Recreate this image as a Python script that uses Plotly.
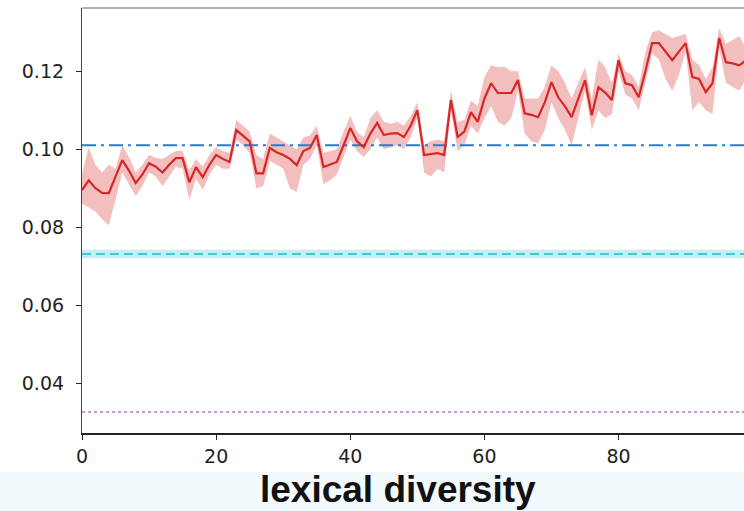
import plotly.graph_objects as go

x_vals = list(range(100))
mean_vals = [
    0.0895, 0.0920, 0.0900, 0.0888, 0.0887, 0.0930, 0.0972, 0.0945, 0.0913, 0.0935,
    0.0964, 0.0955, 0.0940, 0.0960, 0.0977, 0.0977, 0.0915, 0.0954, 0.0928, 0.0960,
    0.0985, 0.0975, 0.0967, 0.1049, 0.1035, 0.1020, 0.0938, 0.0938, 0.1003, 0.0992,
    0.0985, 0.0975, 0.0959, 0.0995, 0.1003, 0.1036, 0.0954, 0.0960, 0.0967, 0.1010,
    0.1054, 0.1020, 0.1005, 0.1040, 0.1067, 0.1036, 0.1040, 0.1041, 0.1031, 0.1060,
    0.1100, 0.0985, 0.0988, 0.0990, 0.0985, 0.1126, 0.1031, 0.1045, 0.1095, 0.1070,
    0.1130, 0.1169, 0.1144, 0.1144, 0.1144, 0.1177, 0.1092, 0.1088, 0.1082, 0.1120,
    0.1172, 0.1133, 0.1110, 0.1082, 0.1130, 0.1177, 0.1087, 0.1159, 0.1145, 0.1126,
    0.1228, 0.1169, 0.1164, 0.1133, 0.1200, 0.1272, 0.1272, 0.1250, 0.1228, 0.1250,
    0.1272, 0.1185, 0.1180, 0.1146, 0.1169, 0.1285, 0.1223, 0.1220, 0.1215, 0.1228,
]
lower_vals = [
    0.0860, 0.0850, 0.0840, 0.0820, 0.0805, 0.0870, 0.0940, 0.0910, 0.0880, 0.0905,
    0.0940, 0.0930, 0.0905, 0.0930, 0.0955, 0.0950, 0.0870, 0.0925, 0.0895, 0.0935,
    0.0960, 0.0950, 0.0950, 0.1025, 0.1010, 0.0990, 0.0900, 0.0905, 0.0970, 0.0960,
    0.0950, 0.0900, 0.0890, 0.0960, 0.0975, 0.1010, 0.0910, 0.0920, 0.0935, 0.0980,
    0.1025, 0.0995, 0.0980, 0.1000, 0.1030, 0.1000, 0.1005, 0.1010, 0.1000, 0.1030,
    0.1080, 0.0940, 0.0930, 0.0950, 0.0940, 0.1100, 0.0995, 0.1010, 0.1060, 0.1040,
    0.1080, 0.1110, 0.1070, 0.1060, 0.1080, 0.1150, 0.1040, 0.1020, 0.1015, 0.1050,
    0.1120, 0.1080, 0.1050, 0.1010, 0.1080, 0.1150, 0.1050, 0.1100, 0.1080, 0.1090,
    0.1200, 0.1140, 0.1130, 0.1100, 0.1170, 0.1245, 0.1230, 0.1180, 0.1150, 0.1190,
    0.1250, 0.1100, 0.1120, 0.1100, 0.1090, 0.1260, 0.1170, 0.1160, 0.1150, 0.1180,
]
upper_vals = [
    0.0935, 0.1005, 0.0960, 0.0940, 0.0960, 0.0950, 0.1010, 0.0980, 0.0940, 0.0960,
    0.0985, 0.0978, 0.0975, 0.0985, 0.0995, 0.0995, 0.0945, 0.0975, 0.0955, 0.0985,
    0.1005, 0.0995, 0.0990, 0.1075, 0.1060, 0.1045, 0.0985, 0.0975, 0.1040, 0.1030,
    0.1020, 0.1010, 0.1000, 0.1030, 0.1035, 0.1060, 0.0990, 0.0995, 0.1000, 0.1045,
    0.1085, 0.1045, 0.1030, 0.1080, 0.1100, 0.1070, 0.1065, 0.1070, 0.1060, 0.1085,
    0.1120, 0.1010, 0.1020, 0.1025, 0.1020, 0.1150, 0.1070, 0.1075, 0.1125, 0.1110,
    0.1185, 0.1215, 0.1210, 0.1212, 0.1200, 0.1200, 0.1130, 0.1130, 0.1130, 0.1160,
    0.1215, 0.1200, 0.1170, 0.1130, 0.1170, 0.1210, 0.1130, 0.1230, 0.1210, 0.1170,
    0.1245, 0.1200, 0.1190, 0.1160, 0.1250, 0.1300, 0.1305, 0.1295, 0.1285, 0.1290,
    0.1295, 0.1230, 0.1215, 0.1180, 0.1210, 0.1310, 0.1270, 0.1280, 0.1290, 0.1260,
]

baseline_blue = 0.1010
baseline_cyan = 0.0731
cyan_band = (0.0720, 0.0742)
baseline_purple = 0.0326

x_range = [0, 98.7]
y_range = [0.0272, 0.1362]
y_ticks = [0.04, 0.06, 0.08, 0.10, 0.12]
y_tick_text = ["0.04", "0.06", "0.08", "0.10", "0.12"]
x_ticks = [0, 20, 40, 60, 80]
x_tick_text = ["0", "20", "40", "60", "80"]
x_label = "lexical diversity"

fig = go.Figure()

# red band
fig.add_trace(go.Scatter(x=x_vals, y=upper_vals, mode="lines", line=dict(width=0),
                         hoverinfo="skip", showlegend=False))
fig.add_trace(go.Scatter(x=x_vals, y=lower_vals, mode="lines", line=dict(width=0),
                         fill="tonexty", fillcolor="rgba(222,70,70,0.35)",
                         hoverinfo="skip", showlegend=False))

# cyan band
fig.add_trace(go.Scatter(x=[x_range[0], x_range[1]], y=[cyan_band[1]] * 2, mode="lines",
                         line=dict(width=0), showlegend=False, hoverinfo="skip"))
fig.add_trace(go.Scatter(x=[x_range[0], x_range[1]], y=[cyan_band[0]] * 2, mode="lines",
                         line=dict(width=0), fill="tonexty",
                         fillcolor="rgba(23,190,207,0.25)", showlegend=False, hoverinfo="skip"))

fig.add_trace(go.Scatter(x=[x_range[0], x_range[1]], y=[baseline_blue] * 2, mode="lines",
                         line=dict(color="#2f7bc1", width=1.8, dash="14px,5px,3px,5px"),
                         showlegend=False))
fig.add_trace(go.Scatter(x=[x_range[0], x_range[1]], y=[baseline_cyan] * 2, mode="lines",
                         line=dict(color="#22b8cc", width=1.5, dash="9px,5px"), showlegend=False))
fig.add_trace(go.Scatter(x=[x_range[0], x_range[1]], y=[baseline_purple] * 2, mode="lines",
                         line=dict(color="#c39ad9", width=2, dash="3px,3px"), showlegend=False))

fig.add_trace(go.Scatter(x=x_vals, y=mean_vals, mode="lines",
                         line=dict(color="#d62728", width=2.2), showlegend=False))

fig.update_layout(
    width=744, height=511,
    margin=dict(l=82, r=0, t=8, b=78),
    paper_bgcolor="white", plot_bgcolor="white",
    font=dict(family="DejaVu Sans", size=16, color="#222"),
    xaxis=dict(range=x_range, tickvals=x_ticks, ticktext=x_tick_text,
               showgrid=False, zeroline=False, showline=True, linecolor="#222",
               linewidth=1.5, ticks="outside", ticklen=5, tickcolor="#222",
               tickfont=dict(size=19)),
    yaxis=dict(range=y_range, tickvals=y_ticks, ticktext=y_tick_text,
               showgrid=False, zeroline=False, showline=True, linecolor="#444",
               linewidth=1.2, ticks="outside", ticklen=5, tickcolor="#222",
               tickfont=dict(size=19), ticklabelstandoff=8),
    shapes=[
        dict(type="rect", xref="paper", yref="paper", x0=-0.13, x1=1.0,
             y0=-(472 - 433) / 425, y1=-0.19, fillcolor="#f2fafd",
             line=dict(width=0), layer="below"),
        dict(type="line", xref="paper", yref="paper", x0=0, x1=1, y0=1, y1=1,
             line=dict(color="#999", width=1.5)),
    ],
    annotations=[
        dict(text="<b>" + x_label + "</b>", xref="paper", yref="paper",
             x=(398 - 82) / 662, y=-(489 - 433) / 425, xanchor="center", yanchor="middle",
             showarrow=False,
             font=dict(family="Liberation Sans", size=37, color="#111")),
    ],
)

fig.write_html("out.html")
